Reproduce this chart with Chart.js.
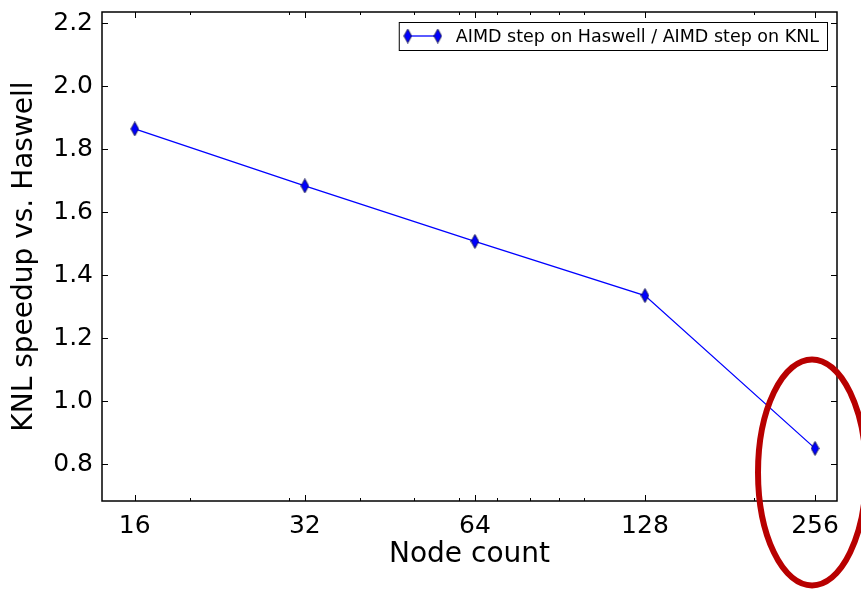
<!DOCTYPE html>
<html>
<head>
<meta charset="utf-8">
<script src="https://cdn.jsdelivr.net/npm/chart.js@4.4.1/dist/chart.umd.min.js"></script>
<style>
  html, body { margin: 0; padding: 0; background: #fff; }
  #wrap { width: 861px; height: 589px; }
</style>
</head>
<body>
<div id="wrap"><canvas id="speedupChart" width="861" height="589"></canvas></div>
<script>
const nodeCounts = [16, 32, 64, 128, 256];
const speedup = [1.865, 1.684, 1.508, 1.336, 0.851];
const xTicks = [16, 32, 64, 128, 256];
const xMinorTicks = [20, 30, 40, 50, 60, 70, 80, 90, 100, 200];
const yTicks = [0.8, 1.0, 1.2, 1.4, 1.6, 1.8, 2.0, 2.2];
const seriesLabel = "AIMD step on Haswell / AIMD step on KNL";

const FONT = "'DejaVu Sans', sans-serif";

// thin diamond marker like matplotlib's 'd'
const makeDiamond = () => {
  const c = document.createElement("canvas");
  c.width = 9;
  c.height = 15;
  const g = c.getContext("2d");
  g.beginPath();
  g.moveTo(4.5, 0.5);
  g.lineTo(8.3, 7.5);
  g.lineTo(4.5, 14.5);
  g.lineTo(0.7, 7.5);
  g.closePath();
  g.fillStyle = "#0000ff";
  g.fill();
  g.lineWidth = 0.8;
  g.strokeStyle = "#000033";
  g.stroke();
  return c;
};
const diamond = makeDiamond();

// inward ticks on all four sides plus the frame
const framePlugin = {
  id: "frame",
  afterDatasetsDraw(chart) {
    const { ctx, chartArea: a, scales } = chart;
    ctx.save();
    ctx.strokeStyle = "#000";
    ctx.lineWidth = 1;
    const xt = (vals, len) => {
      vals.forEach((v) => {
        const px = Math.round(scales.x.getPixelForValue(v)) + 0.5;
        ctx.beginPath();
        ctx.moveTo(px, a.bottom);
        ctx.lineTo(px, a.bottom - len);
        ctx.moveTo(px, a.top);
        ctx.lineTo(px, a.top + len);
        ctx.stroke();
      });
    };
    xt(xTicks, 6);
    xt(xMinorTicks, 3);
    yTicks.forEach((v) => {
      const py = Math.round(scales.y.getPixelForValue(v)) + 0.5;
      ctx.beginPath();
      ctx.moveTo(a.left, py);
      ctx.lineTo(a.left + 6, py);
      ctx.moveTo(a.right, py);
      ctx.lineTo(a.right - 6, py);
      ctx.stroke();
    });
    ctx.lineWidth = 1.5;
    ctx.strokeRect(a.left, a.top, a.right - a.left, a.bottom - a.top);
    ctx.restore();
  },
};

// matplotlib-like legend box: line with a marker at each end
const legendPlugin = {
  id: "mplLegend",
  afterDraw(chart) {
    const { ctx, chartArea: a } = chart;
    ctx.save();
    ctx.font = "17.5px " + FONT;
    const tw = ctx.measureText(seriesLabel).width;
    const right = a.right - 10;
    const left = right - tw - 65;
    const top = a.top + 10;
    const h = 28;
    ctx.fillStyle = "#fff";
    ctx.fillRect(left, top, right - left, h);
    ctx.strokeStyle = "#000";
    ctx.lineWidth = 1;
    ctx.strokeRect(left + 0.5, top + 0.5, right - left, h);
    const ly = top + h / 2;
    ctx.strokeStyle = "#0000ff";
    ctx.lineWidth = 1.3;
    ctx.beginPath();
    ctx.moveTo(left + 9, ly);
    ctx.lineTo(left + 39, ly);
    ctx.stroke();
    ctx.drawImage(diamond, left + 9 - 4.5, ly - 7.5);
    ctx.drawImage(diamond, left + 39 - 4.5, ly - 7.5);
    ctx.fillStyle = "#000";
    ctx.textBaseline = "middle";
    ctx.fillText(seriesLabel, left + 57, ly + 1);
    ctx.restore();
  },
};

// the red ellipse drawn round the 256-node point
const ellipsePlugin = {
  id: "ellipse",
  afterDraw(chart) {
    const { ctx, scales } = chart;
    const cx = scales.x.getPixelForValue(nodeCounts[4]) - 3;
    const cy = scales.y.getPixelForValue(speedup[4]) + 24;
    ctx.save();
    ctx.strokeStyle = "#b80000";
    ctx.lineWidth = 6;
    ctx.beginPath();
    ctx.ellipse(cx, cy, 54, 113, 0, 0, Math.PI * 2);
    ctx.stroke();
    ctx.restore();
  },
};

const ctx = document.getElementById("speedupChart").getContext("2d");

new Chart(ctx, {
  type: "line",
  data: {
    labels: nodeCounts,
    datasets: [
      {
        label: seriesLabel,
        data: nodeCounts.map((n, i) => ({ x: n, y: speedup[i] })),
        borderColor: "#0000ff",
        borderWidth: 1.3,
        fill: false,
        tension: 0,
        pointStyle: diamond,
        pointRadius: 6,
        pointHoverRadius: 6,
      },
    ],
  },
  options: {
    responsive: false,
    animation: false,
    layout: { padding: { top: 12, right: 24, left: 0, bottom: 0 } },
    plugins: {
      legend: { display: false },
      tooltip: { enabled: false },
    },
    scales: {
      x: {
        type: "logarithmic",
        min: 14,
        max: 280,
        afterBuildTicks: (scale) => {
          scale.ticks = xTicks.map((v) => ({ value: v }));
        },
        afterFit: (scale) => {
          scale.height = 88;
          scale.paddingLeft = 0;
          scale.paddingRight = 0;
        },
        grid: { drawOnChartArea: false, drawTicks: false },
        border: { display: false },
        ticks: {
          autoSkip: false,
          maxRotation: 0,
          padding: 10,
          color: "#000",
          font: { family: FONT, size: 25 },
          callback: (v) => String(v),
        },
        title: {
          display: true,
          text: "Node count",
          color: "#000",
          font: { family: FONT, size: 28 },
          padding: { top: 0, bottom: 17 },
        },
      },
      y: {
        type: "linear",
        min: 0.684,
        max: 2.236,
        afterBuildTicks: (scale) => {
          scale.ticks = yTicks.map((v) => ({ value: v }));
        },
        afterFit: (scale) => {
          scale.width = 102;
          scale.paddingTop = 0;
          scale.paddingBottom = 0;
        },
        grid: { drawOnChartArea: false, drawTicks: false },
        border: { display: false },
        ticks: {
          padding: 9,
          color: "#000",
          font: { family: FONT, size: 25 },
          callback: (v) => v.toFixed(1),
        },
        title: {
          display: true,
          text: "KNL speedup vs. Haswell",
          color: "#000",
          font: { family: FONT, size: 28 },
          padding: { top: 8, bottom: 0 },
        },
      },
    },
  },
  plugins: [framePlugin, legendPlugin, ellipsePlugin],
});
</script>
</body>
</html>
